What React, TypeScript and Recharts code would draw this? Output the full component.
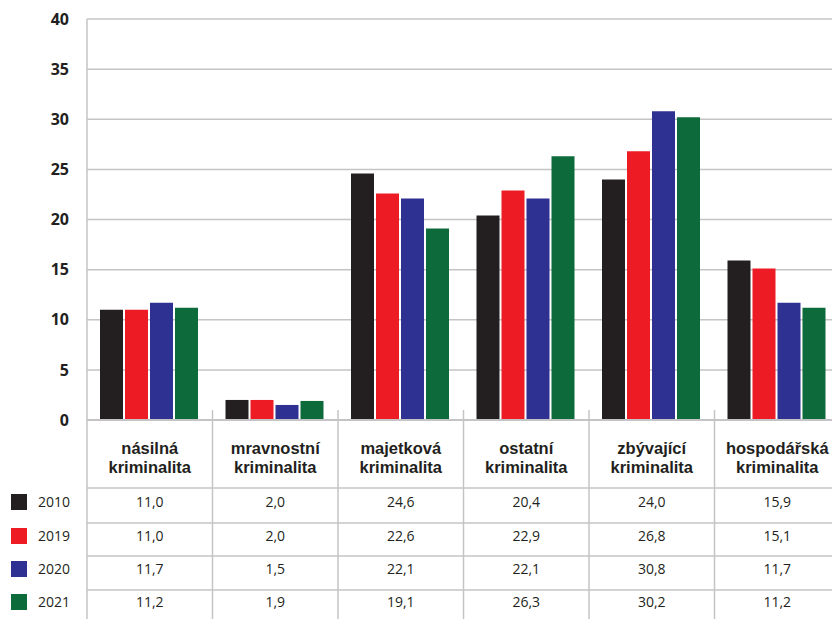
import React from 'react';
import { BarChart, Bar, XAxis, YAxis, CartesianGrid } from 'recharts';

const categories = [
  ['násilná', 'kriminalita'],
  ['mravnostní', 'kriminalita'],
  ['majetková', 'kriminalita'],
  ['ostatní', 'kriminalita'],
  ['zbývající', 'kriminalita'],
  ['hospodářská', 'kriminalita'],
];
const years = ['2010', '2019', '2020', '2021'];
const colors = ['#231f20', '#ed1c24', '#2e3192', '#0d6a3a'];
const v2010 = [11.0, 2.0, 24.6, 20.4, 24.0, 15.9];
const v2019 = [11.0, 2.0, 22.6, 22.9, 26.8, 15.1];
const v2020 = [11.7, 1.5, 22.1, 22.1, 30.8, 11.7];
const v2021 = [11.2, 1.9, 19.1, 26.3, 30.2, 11.2];
const yTicks = [0, 5, 10, 15, 20, 25, 30, 35, 40];

const series = [v2010, v2019, v2020, v2021];
const data = categories.map((c, i) => ({
  name: c.join(' '),
  y2010: v2010[i],
  y2019: v2019[i],
  y2020: v2020[i],
  y2021: v2021[i],
}));

const W = 840;
const H = 619;
const YW = 87;
const BAND = (W - YW) / categories.length;
const GRID = '#c4c4c6';
const FONT = '"Open Sans", sans-serif';
const HEAD_FONT = '"Liberation Sans", Arial, sans-serif';
const fmt = (n: number) => n.toFixed(1).replace('.', ',');

// row separators below the axis, relative to the axis line
const rowLines = [68, 103, 136, 170];
const rowText = [87, 121, 154, 187];

const TableTick = (props: any) => {
  const { x, y, index } = props;
  const left = x - BAND / 2;
  const right = x + BAND / 2;
  return (
    <g>
      <line x1={right} x2={right} y1={y - 10} y2={y + 210} stroke={GRID} strokeWidth={1.5} />
      {index === 0 && (
        <line x1={left} x2={left} y1={y} y2={y + 210} stroke={GRID} strokeWidth={1.5} />
      )}
      {rowLines.map((r) => (
        <line key={r} x1={left} x2={right} y1={y + r} y2={y + r} stroke={GRID} strokeWidth={1.5} />
      ))}
      <text x={x} y={y + 34} textAnchor="middle" fontFamily={HEAD_FONT} fontWeight={700} fontSize={16.5} fill="#231f20">
        {categories[index][0]}
      </text>
      <text x={x} y={y + 52.5} textAnchor="middle" fontFamily={HEAD_FONT} fontWeight={700} fontSize={16.5} fill="#231f20">
        {categories[index][1]}
      </text>
      {series.map((s, k) => (
        <text
          key={k}
          x={x}
          y={y + rowText[k]}
          textAnchor="middle"
          fontFamily={FONT}
          fontSize={14}
          fill="#231f20"
        >
          {fmt(s[index])}
        </text>
      ))}
      {index === 0 &&
        years.map((yr, k) => (
          <g key={yr}>
            <rect x={left - YW + 11} y={y + rowText[k] - 13} width={16} height={16} fill={colors[k]} />
            <text x={left - YW + 38} y={y + rowText[k]} fontFamily={FONT} fontSize={14} fill="#231f20">
              {yr}
            </text>
          </g>
        ))}
    </g>
  );
};

export default function App() {
  return (
    <div style={{ position: 'absolute', left: 0, top: 0, width: 832, height: H, overflow: 'hidden', background: '#fff' }}>
      <BarChart
        width={W}
        height={H}
        data={data}
        margin={{ top: 19, right: 0, bottom: 0, left: 0 }}
        barCategoryGap={13}
        barGap={2}
      >
        <CartesianGrid vertical={false} stroke={GRID} strokeWidth={1.5} />
        <YAxis
          width={YW}
          domain={[0, 40]}
          ticks={yTicks}
          interval={0}
          tickLine={false}
          axisLine={{ stroke: GRID, strokeWidth: 1.5 }}
          tickMargin={12}
          tick={{ fontFamily: FONT, fontWeight: 700, fontSize: 16, fill: '#231f20' }}
        />
        <XAxis
          dataKey="name"
          height={199}
          interval={0}
          tickLine={false}
          tickSize={0}
          tickMargin={0}
          axisLine={{ stroke: GRID, strokeWidth: 2 }}
          tick={<TableTick />}
        />
        {years.map((yr, k) => (
          <Bar key={yr} dataKey={'y' + yr} fill={colors[k]} isAnimationActive={false} />
        ))}
      </BarChart>
    </div>
  );
}
